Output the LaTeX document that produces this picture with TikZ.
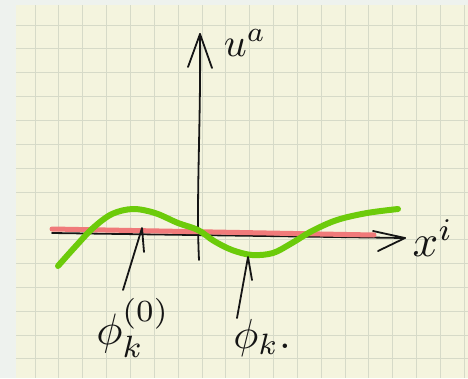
\documentclass[tikz,border=0pt]{standalone}
\usepackage{graphicx}
\usetikzlibrary{arrows.meta}
\definecolor{outerbg}{HTML}{EEF2EE}
\definecolor{paper}{HTML}{F4F4DE}
\definecolor{gridc}{HTML}{D6DAC8}
\definecolor{pen}{HTML}{151515}
\definecolor{redpen}{HTML}{F07A7A}
\definecolor{greenpen}{HTML}{6CCB0A}
\tikzset{
  ink/.style={draw=pen,line width=1.8pt,line cap=round,line join=round},
  gridline/.style={draw=gridc,line width=0.9pt},
  hand/.style={inner sep=0pt,text=pen},
}
\begin{document}
\begin{tikzpicture}[x=1pt,y=-1pt]
\fill[outerbg] (0,0) rectangle (468,378);
\useasboundingbox (0,0) rectangle (468,378);
\fill[paper] (16,5) rectangle (468,378);
\foreach \i in {0,...,18} \draw[gridline] ({35+23.85*\i},5) -- ({35+23.85*\i},378);
\foreach \j in {0,...,14} \draw[gridline] (16,{25+23.85*\j}) -- (468,{25+23.85*\j});
% coordinates
\coordinate (ybot) at (199,260);
\coordinate (ytip) at (200,34);
\coordinate (xleft) at (52,233);
\coordinate (xtip) at (405,238);
% axes
\draw[ink] (ybot) .. controls (196,200) and (201,120) .. (ytip);
\draw[ink] (188,67) -- (ytip) -- (212,68);
\draw[ink] (xleft) -- (xtip);
\draw[ink] (373,231) -- (xtip) -- (378,251);
% red line
\draw[redpen,line width=5pt,line cap=round] (52,229) -- (374,235);
% green curve
\draw[greenpen,line width=6pt,line cap=round,line join=round]
  plot[smooth,tension=0.55] coordinates {(58,266) (75,247) (93,228) (112,214) (133,209) (155,213) (178,223) (198,230) (214,241) (232,250) (252,255) (273,253) (292,243) (312,231) (337,220) (367,213) (398,209)};
% labels
\node[hand] (ua) at (245,43) {\scalebox{4}{$u^a$}};
\node[hand] (xi) at (433,238) {\scalebox{4.5}{$x^i$}};
\node[hand] (phi0) at (133,328) {\scalebox{4.4}{$\phi_k^{(0)}$}};
\node[hand] (phik) at (262,338) {\scalebox{4.2}{$\phi_k.$}};
% pointers
\coordinate (p0tip) at (142,228);
\coordinate (pktip) at (248,257);
\draw[ink] (123,290) -- (p0tip) -- (144,252);
\draw[ink] (237,318) -- (pktip) -- (252,280);
\end{tikzpicture}
\end{document}
